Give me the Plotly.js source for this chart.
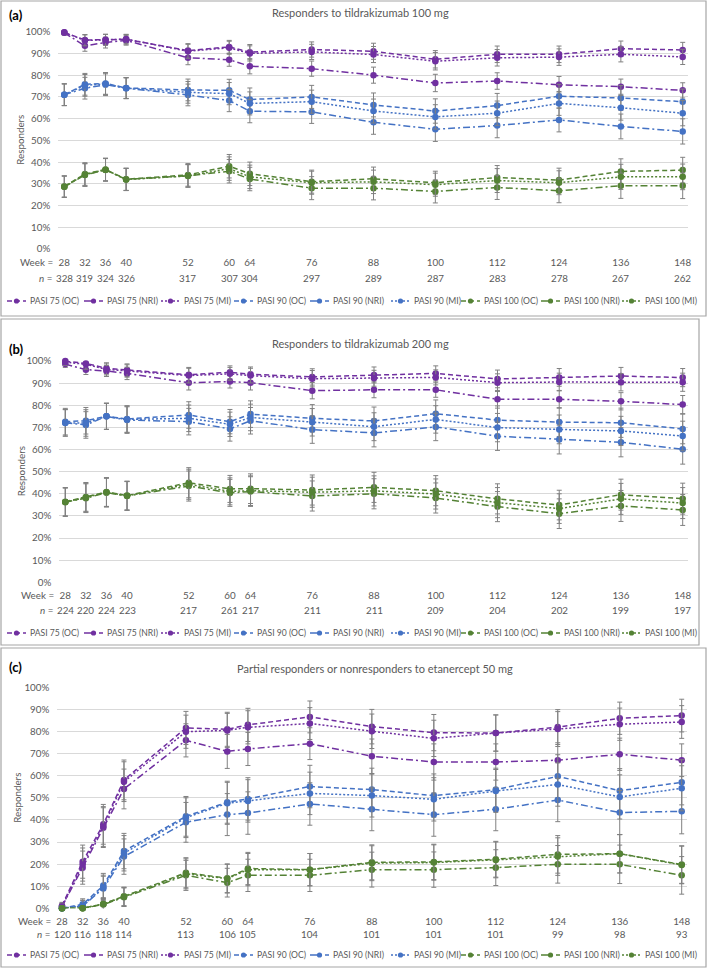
<!DOCTYPE html>
<html><head><meta charset="utf-8">
<script src="https://cdn.plot.ly/plotly-3.0.1.min.js"></script>
<style>html,body{margin:0;padding:0;background:#fff;}#chart{width:709px;height:969px;}</style>
</head><body><div id="chart"></div>
<script>
// ---------- DATA ----------
const weeks = [28,32,36,40,52,60,64,76,88,100,112,124,136,148];
const weekLabels = ['28','32','36','40','52','60','64','76','88','100','112','124','136','148'];
const seriesNames = ['PASI 75 (OC)','PASI 75 (NRI)','PASI 75 (MI)','PASI 90 (OC)','PASI 90 (NRI)','PASI 90 (MI)','PASI 100 (OC)','PASI 100 (NRI)','PASI 100 (MI)'];
const panelTitles = ['Responders to tildrakizumab 100 mg','Responders to tildrakizumab 200 mg','Partial responders or nonresponders to etanercept 50 mg'];
const panelLabels = ['(a)','(b)','(c)'];

// Panel (a): tildrakizumab 100 mg
const nA = [328,319,324,326,317,307,304,297,289,287,283,278,267,262];
const a75oc  = [99.7,96.2,96.3,96.5,91.3,93.0,90.6,91.8,91.0,87.3,89.6,89.6,92.2,91.6];
const a75nri = [99.5,93.5,95.0,96.0,88.0,87.1,84.1,83.0,80.0,76.4,77.3,75.6,74.7,73.0];
const a75mi  = [99.6,96.0,96.3,96.6,91.0,92.6,90.0,90.7,89.5,86.4,88.0,88.3,89.6,88.4];
const a90oc  = [71.0,75.8,76.2,74.1,73.2,73.0,68.8,70.0,66.3,63.5,66.0,70.3,69.5,67.8];
const a90nri = [71.0,74.0,75.6,74.0,70.9,68.3,63.4,63.1,58.3,55.1,56.8,59.4,56.4,54.1];
const a90mi  = [71.0,75.3,76.0,74.0,72.1,71.5,67.0,67.8,63.5,60.8,62.5,67.0,65.0,62.5];
const a100oc  = [28.8,34.5,36.6,32.1,34.1,38.1,34.6,31.0,32.3,30.5,32.9,31.7,35.7,36.3];
const a100nri = [28.6,34.0,36.4,32.0,33.7,35.8,32.2,28.0,28.0,26.5,28.3,26.8,29.1,29.1];
const a100mi  = [28.7,34.2,36.5,32.0,33.6,37.0,33.2,30.5,30.9,29.6,31.5,30.5,33.2,33.2];
const aErr75  = [1.0,2.5,2.5,2.2,3.2,3.0,3.5,3.5,3.7,4.0,3.8,3.8,3.5,3.5];
const aErr90  = [5.0,5.0,5.0,4.8,5.0,5.1,5.3,5.3,5.5,5.6,5.6,5.5,5.7,5.8];
const aErr100 = [4.9,5.2,5.2,5.1,5.2,5.4,5.4,5.3,5.4,5.3,5.5,5.5,5.8,5.9];

// Panel (b): tildrakizumab 200 mg
const nB = [224,220,224,223,217,261,217,211,211,209,204,202,199,197];
const b75oc  = [100,98.9,96.7,95.9,93.8,94.9,94.0,92.8,93.7,94.4,91.9,92.6,93.2,92.5];
const b75nri = [98.6,96.1,95.5,94.4,90.2,90.7,90.2,86.6,87.0,87.0,82.7,82.7,81.8,80.3];
const b75mi  = [99.5,98.5,96.2,95.5,93.4,94.2,93.4,92.0,92.2,92.6,90.2,90.5,90.4,90.4];
const b90oc  = [72.6,73.0,75.0,73.8,75.6,72.6,76.0,74.1,72.9,76.2,73.3,72.4,72.1,69.3];
const b90nri = [72.1,71.1,75.0,73.3,72.6,69.3,73.0,69.0,67.5,70.2,66.0,64.5,63.3,60.1];
const b90mi  = [72.0,72.0,75.0,73.6,74.1,71.4,74.5,72.3,70.3,73.6,69.9,69.1,68.4,66.1];
const b100oc  = [36.4,38.6,40.8,39.2,45.0,42.2,42.3,41.7,42.9,41.4,37.7,34.9,39.6,37.8];
const b100nri = [36.2,38.0,40.5,39.0,43.5,40.4,41.0,39.0,40.0,38.1,34.2,31.0,34.5,32.7];
const b100mi  = [36.3,38.3,40.7,39.1,44.3,41.1,41.4,40.7,41.3,39.9,36.0,33.3,37.7,35.8];
const bErr75  = [1.5,2.2,2.5,2.8,3.3,2.9,3.3,3.7,3.6,3.4,4.0,4.0,3.9,4.1];
const bErr90  = [6.0,6.0,5.9,6.0,6.0,5.5,6.0,6.2,6.3,6.2,6.4,6.5,6.6,6.7];
const bErr100 = [6.4,6.5,6.5,6.5,6.8,6.1,6.7,6.8,6.8,6.8,6.8,6.7,7.0,7.0];

// Panel (c): etanercept 50 mg partial / nonresponders
const nC = [120,116,118,114,113,106,105,104,101,101,101,99,98,93];
const c75oc  = [1.2,21.1,38.0,58.1,81.6,81.0,83.0,86.6,82.2,79.5,79.3,82.0,86.0,87.2];
const c75nri = [0.8,18.4,36.5,54.0,76.0,71.0,72.1,74.5,68.8,66.2,66.2,67.0,69.7,67.0];
const c75mi  = [0.8,19.8,37.0,57.3,79.9,80.5,81.9,83.6,80.1,76.9,79.3,81.1,83.3,84.3];
const c90oc  = [0,1.8,10.3,25.9,41.6,48.0,49.5,55.1,53.7,51.0,53.7,59.7,53.2,57.0];
const c90nri = [0,1.0,9.0,23.4,38.9,42.4,43.1,47.2,44.8,42.4,44.8,49.0,43.3,43.9];
const c90mi  = [0,1.2,9.5,24.9,41.0,47.5,48.6,52.0,51.0,49.3,53.1,56.0,50.4,54.3];
const c100oc  = [0,0,2.0,5.4,16.1,13.6,18.0,17.5,20.8,21.0,22.2,24.4,24.7,19.8];
const c100nri = [0,0,1.7,5.0,14.9,11.6,14.9,14.9,17.5,17.5,18.4,19.9,19.9,14.9];
const c100mi  = [0,0,2.0,5.2,15.6,13.4,17.5,17.5,20.4,20.7,21.9,23.4,24.7,19.6];
const cErr75  = [1.5,7.5,9.0,9.0,7.5,7.7,7.5,7.2,7.8,8.2,8.2,7.9,7.3,7.4];
const cErr90  = [0.5,2.5,5.5,8.0,9.0,9.5,9.6,9.6,9.7,9.8,9.7,9.8,10.0,10.2];
const cErr100 = [0.5,0.5,2.5,4.2,6.8,6.5,7.3,7.3,7.9,8.0,8.1,8.5,8.7,8.5];

// ---------- STYLE / LAYOUT ----------
const W = 709, H = 969;
const px = v => v / W, py = v => 1 - v / H;
const FONT = 'Lato, "Open Sans", sans-serif';
const GREY = '#595959';
const colors = ['#7030A0','#7030A0','#7030A0','#4472C4','#4472C4','#4472C4','#548235','#548235','#548235'];
const dashes = ['5px,3px','7px,3px,2px,3px','2px,2px','5px,3px','7px,3px,2px,3px','2px,2px','5px,3px','7px,3px,2px,3px','2px,2px'];

const panels = [
  {vals:[a75oc,a75nri,a75mi,a90oc,a90nri,a90mi,a100oc,a100nri,a100mi], errs:[aErr75,aErr90,aErr100], n:nA,
   xpx:[58.3,687.7], w28:64.3, w148:682.7, y0:249, y100:31.7, weekY:262, nY:278, legY:301,
   titleX:360, titleY:12, labY:15, ytX:20.5, box:[1,1,706,316]},
  {vals:[b75oc,b75nri,b75mi,b90oc,b90nri,b90mi,b100oc,b100nri,b100mi], errs:[bErr75,bErr90,bErr100], n:nB,
   xpx:[59.3,687.7], w28:65.3, w148:682.7, y0:582.3, y100:361, weekY:595, nY:610, legY:633,
   titleX:360, titleY:344, labY:349, ytX:20.5, box:[1,319,699,645]},
  {vals:[c75oc,c75nri,c75mi,c90oc,c90nri,c90mi,c100oc,c100nri,c100mi], errs:[cErr75,cErr90,cErr100], n:nC,
   xpx:[57.3,686.7], w28:62, w148:681.7, y0:908.3, y100:687.3, weekY:921, nY:934, legY:955,
   titleX:375, titleY:668, labY:667, ytX:17, box:[1,648,706,967]}
];
const legX = [7, 84, 161, 234, 310, 391, 461, 541, 622];

const traces = [], annotations = [], shapes = [];
const layout = {
  width: W, height: H, margin:{l:0,r:0,t:0,b:0}, paper_bgcolor:'#fff', plot_bgcolor:'#fff',
  showlegend:false, font:{family:FONT, color:GREY, size:10}
};

panels.forEach((p, pi) => {
  const sfx = pi === 0 ? '' : String(pi + 1);
  const pw = (p.w148 - p.w28) / 120;
  const xr = [28 - (p.w28 - p.xpx[0]) / pw, 148 + (p.xpx[1] - p.w148) / pw];
  layout['xaxis' + sfx] = {
    domain:[px(p.xpx[0]), px(p.xpx[1])], range: xr, anchor:'y' + sfx,
    tickmode:'array', tickvals: weeks, ticktext: weekLabels, showgrid:false, zeroline:false,
    showline:false, ticks:'', ticklabelstandoff: 6, tickfont:{size:9.8, color:GREY, family:FONT}, fixedrange:true
  };
  layout['yaxis' + sfx] = {
    domain:[py(p.y0), py(p.y100)], range:[0,100], anchor:'x' + sfx, dtick:10, tick0:0, ticksuffix:'%',
    showgrid:true, gridcolor:'#d9d9d9', gridwidth:1, zeroline:false, showline:false, ticks:'',
    ticklabelstandoff: 7, tickfont:{size:9.8, color:GREY, family:FONT}, fixedrange:true
  };
  p.vals.forEach((v, si) => {
    traces.push({
      type:'scatter', mode:'lines+markers', x: weeks, y: v, name: seriesNames[si],
      xaxis:'x' + sfx, yaxis:'y' + sfx, cliponaxis:false,
      line:{color: colors[si], width:1.5, dash: dashes[si]},
      marker:{color: colors[si], size:6.5},
      error_y:{type:'data', array: p.errs[Math.floor(si/3)], visible:true, color:'#808080', thickness:1, width:2.5}
    });
  });
  // border box
  shapes.push({type:'rect', xref:'paper', yref:'paper', x0:px(p.box[0]), x1:px(p.box[2]), y0:py(p.box[3]), y1:py(p.box[1]),
    line:{color:'#a6a6a6', width:1.2}, fillcolor:'rgba(0,0,0,0)', layer:'below'});
  // title, panel label, axis title
  annotations.push({xref:'paper', yref:'paper', x:px(p.titleX), y:py(p.titleY), text: panelTitles[pi], showarrow:false,
    xanchor:'center', yanchor:'middle', font:{size:11, color:GREY, family:FONT}});
  annotations.push({xref:'paper', yref:'paper', x:px(7), y:py(p.labY), text:'<b>' + panelLabels[pi] + '</b>', showarrow:false,
    xanchor:'left', yanchor:'middle', font:{size:13, color:'#000', family:FONT}});
  annotations.push({xref:'paper', yref:'paper', x:px(p.ytX), y:py((p.y0 + p.y100)/2), text:'Responders', showarrow:false,
    textangle:-90, xanchor:'center', yanchor:'middle', font:{size:9.8, color:GREY, family:FONT}});
  // Week = / n = row labels
  annotations.push({xref:'paper', yref:'paper', x:px(p.w28 - 9), y:py(p.weekY), text:'Week =', showarrow:false,
    xanchor:'right', yanchor:'middle', font:{size:9.8, color:GREY, family:FONT}});
  annotations.push({xref:'paper', yref:'paper', x:px(p.w28 - 10), y:py(p.nY), text:'<i>n</i> =', showarrow:false,
    xanchor:'right', yanchor:'middle', font:{size:9.8, color:GREY, family:FONT}});
  p.n.forEach((nv, k) => {
    annotations.push({xref:'x' + sfx, yref:'paper', x: weeks[k], y:py(p.nY), text:String(nv), showarrow:false,
      xanchor:'center', yanchor:'middle', font:{size:9.8, color:GREY, family:FONT}});
  });
  // legend (manual, single row)
  seriesNames.forEach((nm, si) => {
    const x0 = legX[si];
    shapes.push({type:'line', xref:'paper', yref:'paper', x0:px(x0), x1:px(x0 + 19), y0:py(p.legY), y1:py(p.legY),
      line:{color: colors[si], width:1.4, dash: dashes[si]}});
    shapes.push({type:'circle', xref:'paper', yref:'paper', xsizemode:'pixel', ysizemode:'pixel',
      xanchor:px(x0 + 9.5), yanchor:py(p.legY), x0:-2.6, x1:2.6, y0:-2.6, y1:2.6,
      fillcolor: colors[si], line:{color: colors[si], width:0}});
    annotations.push({xref:'paper', yref:'paper', x:px(x0 + 21), y:py(p.legY), text: nm, showarrow:false,
      xanchor:'left', yanchor:'middle', font:{size:8.6, color:GREY, family:FONT}});
  });
});
layout.annotations = annotations;
layout.shapes = shapes;
Plotly.newPlot('chart', traces, layout, {displayModeBar:false, staticPlot:true});
</script>
</body></html>
